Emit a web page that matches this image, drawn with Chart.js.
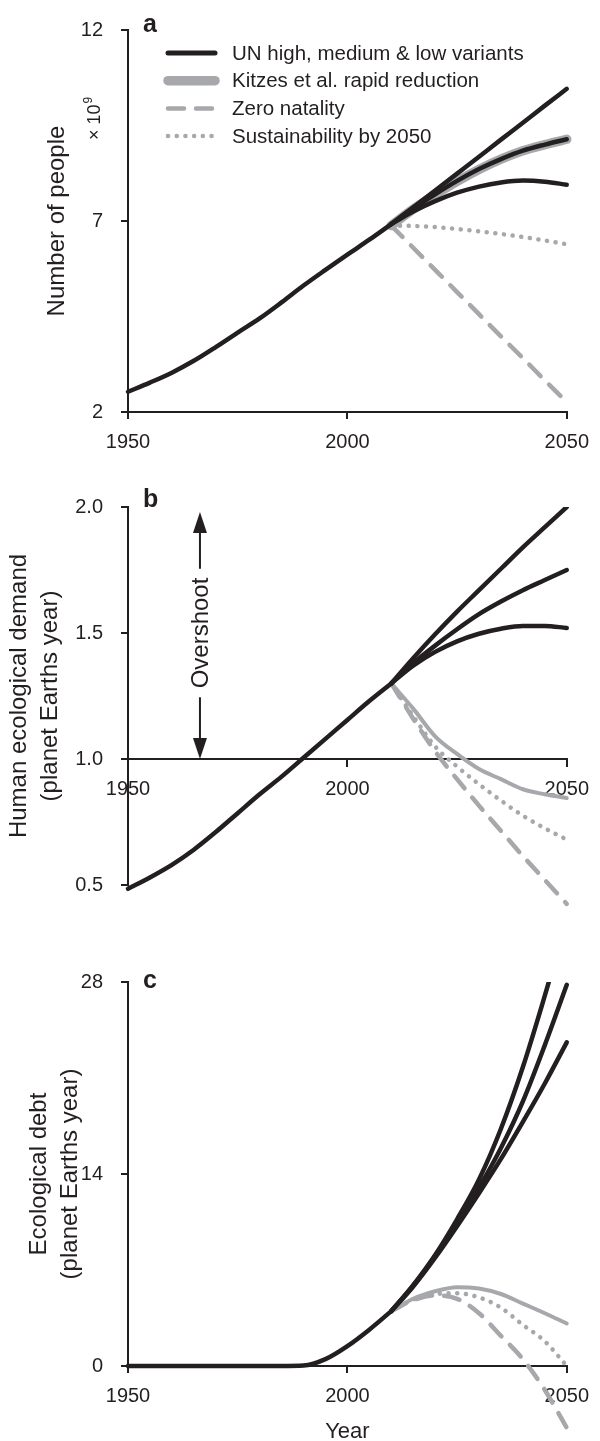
<!DOCTYPE html>
<html>
<head>
<meta charset="utf-8">
<title>Population, ecological demand and debt</title>
<script src="https://cdn.jsdelivr.net/npm/chart.js@4.4.1/dist/chart.umd.min.js"></script>
<style>
    html, body { margin: 0; padding: 0; background: #ffffff; overflow: hidden; }
    .panel { position: absolute; left: 0; width: 600px; }
    #panelA { top: 0; height: 470px; }
    #panelB { top: 470px; height: 445px; }
    #panelC { top: 915px; height: 526px; }
</style>
</head>
<body>
<div class="panel" id="panelA"><canvas id="chartA"></canvas></div>
<div class="panel" id="panelB"><canvas id="chartB"></canvas></div>
<div class="panel" id="panelC"><canvas id="chartC"></canvas></div>

<script>
// Years: history up to 2010, projections from 2010
const yearsHist = [1950, 1955, 1960, 1965, 1970, 1975, 1980, 1985, 1990, 1995, 2000, 2005, 2010];
const yearsProj = [2010, 2015, 2020, 2025, 2030, 2035, 2040, 2045, 2050];

// Panel a: number of people (x 10^9)
const peopleHist = [2.53, 2.77, 3.03, 3.34, 3.70, 4.08, 4.45, 4.87, 5.31, 5.72, 6.12, 6.51, 6.92];
const peopleHigh = [6.92, 7.36, 7.80, 8.24, 8.68, 9.13, 9.57, 10.02, 10.46];
const peopleMedium = [6.92, 7.33, 7.70, 8.05, 8.36, 8.62, 8.84, 9.00, 9.14];
const peopleLow = [6.92, 7.25, 7.52, 7.74, 7.90, 8.01, 8.06, 8.03, 7.95];
const peopleKitzes = [6.88, 7.31, 7.69, 8.04, 8.35, 8.62, 8.84, 9.00, 9.14];
const peopleZero = [6.88, 6.30, 5.72, 5.14, 4.56, 3.98, 3.41, 2.83, 2.26];
const peopleSust = [6.88, 6.87, 6.84, 6.79, 6.73, 6.66, 6.58, 6.49, 6.39];

// Panel b: human ecological demand (planet Earths year)
const demandHist = [0.485, 0.53, 0.58, 0.64, 0.71, 0.785, 0.86, 0.93, 1.005, 1.08, 1.155, 1.23, 1.30];
const demandHigh = [1.30, 1.40, 1.495, 1.585, 1.67, 1.755, 1.84, 1.92, 2.00];
const demandMedium = [1.30, 1.38, 1.45, 1.515, 1.575, 1.625, 1.67, 1.71, 1.75];
const demandLow = [1.30, 1.37, 1.425, 1.467, 1.497, 1.517, 1.528, 1.528, 1.52];
const demandKitzes = [1.30, 1.20, 1.09, 1.02, 0.96, 0.92, 0.88, 0.86, 0.845];
const demandZero = [1.30, 1.16, 1.03, 0.92, 0.815, 0.715, 0.615, 0.52, 0.425];
const demandSust = [1.30, 1.17, 1.05, 0.97, 0.90, 0.835, 0.775, 0.725, 0.68];

// Panel c: ecological debt (planet Earths year)
const debtHist = [0, 0, 0, 0, 0, 0, 0, 0, 0.03, 0.5, 1.45, 2.65, 4.0];
const debtHigh = [4.0, 5.9, 8.1, 10.7, 13.6, 17.3, 21.8, 27.0, 32.5];
const debtMedium = [4.0, 5.85, 8.0, 10.4, 13.0, 15.9, 19.3, 23.4, 27.8];
const debtLow = [4.0, 5.8, 7.9, 10.2, 12.6, 15.1, 17.8, 20.6, 23.6];
const debtKitzes = [4.0, 4.9, 5.45, 5.75, 5.65, 5.25, 4.55, 3.85, 3.1];
const debtZero = [4.0, 4.8, 5.15, 4.9, 3.85, 2.2, 0.5, -1.75, -4.5];
const debtSust = [4.0, 4.85, 5.25, 5.3, 5.0, 4.25, 3.0, 1.8, 0.0];

// Tick labels
const yearTicks = [1950, 2000, 2050];
const peopleTicks = [2, 7, 12];
const demandTicks = [0.5, 1.0, 1.5, 2.0];
const debtTicks = [0, 14, 28];

// Legend texts (panel a)
const legendLabels = ['UN high, medium & low variants', 'Kitzes et al. rapid reduction', 'Zero natality', 'Sustainability by 2050'];
const panelLetters = ['a', 'b', 'c'];

const BLACK = '#231f20';
const GREY = '#a6a8ab';
const DASH = [16, 12];
const DOTS = [0.1, 8.6];

Chart.defaults.font.family = '"Liberation Sans", Arial, Helvetica, sans-serif';
Chart.defaults.color = BLACK;

// Turn a list of years and a list of values into {x, y} points
function points(years, values) {
    return years.map(function (year, i) {
        return { x: year, y: values[i] };
    });
}

function lineDataset(label, years, values, color, width, dash) {
    return {
        label: label,
        data: points(years, values),
        borderColor: color,
        borderWidth: width,
        borderDash: dash || [],
        borderCapStyle: 'round',
        borderJoinStyle: 'round',
        pointRadius: 0,
        fill: false,
        cubicInterpolationMode: 'monotone',
        capBezierPoints: false,
        clip: { left: false, top: 0, right: false, bottom: false }
    };
}

// First dataset is drawn on top, so the black lines come first
function panelDatasets(hist, high, medium, low, zero, sust, kitzes, kitzesWidth) {
    return [
        lineDataset('History', yearsHist, hist, BLACK, 4.5),
        lineDataset('UN high', yearsProj, high, BLACK, 4.5),
        lineDataset('UN medium', yearsProj, medium, BLACK, 4.5),
        lineDataset('UN low', yearsProj, low, BLACK, 4.5),
        lineDataset('Zero natality', yearsProj, zero, GREY, 4.5, DASH),
        lineDataset('Sustainability by 2050', yearsProj, sust, GREY, 4.5, DOTS),
        lineDataset('Kitzes et al. rapid reduction', yearsProj, kitzes, GREY, kitzesWidth)
    ];
}

function tickList(values) {
    return function (axis) {
        axis.ticks = values.map(function (v) { return { value: v }; });
    };
}

// Year axis, shared by the three panels
function yearAxis(height, position, title) {
    return {
        type: 'linear',
        position: position,
        min: yearTicks[0],
        max: yearTicks[yearTicks.length - 1],
        afterBuildTicks: tickList(yearTicks),
        afterFit: function (axis) { if (height) { axis.height = height; } },
        ticks: {
            autoSkip: false,
            maxRotation: 0,
            padding: 11,
            font: { size: 20 },
            color: BLACK,
            callback: function (v) { return String(v); }
        },
        grid: { drawOnChartArea: false, drawTicks: true, tickLength: 7, lineWidth: 2, color: BLACK },
        border: { display: true, width: 2, color: BLACK },
        title: title ? {
            display: true,
            text: title,
            color: BLACK,
            font: { size: 22, lineHeight: 1 },
            padding: { top: 0, bottom: -2 }
        } : { display: false }
    };
}

// Value axis on the left
function valueAxis(values, title, titlePad, lineHeight, formatter) {
    return {
        type: 'linear',
        position: 'left',
        min: values[0],
        max: values[values.length - 1],
        afterBuildTicks: tickList(values),
        afterFit: function (axis) { axis.width = 128; },
        ticks: {
            padding: 18,
            font: { size: 20 },
            color: BLACK,
            callback: formatter || function (v) { return String(v); }
        },
        grid: { drawOnChartArea: false, drawTicks: true, tickLength: 7, lineWidth: 2, color: BLACK },
        border: { display: true, width: 2, color: BLACK },
        title: {
            display: true,
            text: title,
            color: BLACK,
            font: { size: 24, lineHeight: lineHeight },
            padding: { top: titlePad, bottom: 0 }
        }
    };
}

// Bold panel letter next to the top of the y axis
function letterPlugin(letter, baseline) {
    return {
        id: 'letter' + letter,
        afterDraw: function (chart) {
            const ctx = chart.ctx;
            ctx.save();
            ctx.fillStyle = BLACK;
            ctx.font = 'bold 25px "Liberation Sans", Arial, sans-serif';
            ctx.textBaseline = 'alphabetic';
            ctx.textAlign = 'left';
            ctx.fillText(letter, 143, chart.chartArea.top + baseline);
            ctx.restore();
        }
    };
}

// Legend of panel a, drawn from the dataset styles
const legendPlugin = {
    id: 'legendA',
    afterDraw: function (chart) {
        const ctx = chart.ctx;
        const sources = [1, 6, 4, 5];
        ctx.save();
        sources.forEach(function (index, row) {
            const ds = chart.data.datasets[index];
            const y = 53 + row * 27.7;
            ctx.beginPath();
            ctx.strokeStyle = ds.borderColor;
            ctx.lineWidth = index === 1 ? 5 : ds.borderWidth;
            ctx.lineCap = 'round';
            ctx.setLineDash(ds.borderDash || []);
            ctx.moveTo(168, y);
            ctx.lineTo(215, y);
            ctx.stroke();
            ctx.setLineDash([]);
            ctx.fillStyle = BLACK;
            ctx.font = '20.5px "Liberation Sans", Arial, sans-serif';
            ctx.textBaseline = 'middle';
            ctx.textAlign = 'left';
            ctx.fillText(legendLabels[row], 232, y + 1);
        });

        // "x 10^9" unit next to the axis title
        ctx.translate(100, 140);
        ctx.rotate(-Math.PI / 2);
        ctx.font = '18px "Liberation Sans", Arial, sans-serif';
        ctx.textBaseline = 'alphabetic';
        const w = ctx.measureText('\u00d7 10').width;
        ctx.fillText('\u00d7 10', 0, 0);
        ctx.font = '12px "Liberation Sans", Arial, sans-serif';
        ctx.fillText('9', w + 1, -8);
        ctx.restore();
    }
};

// Double arrow with "Overshoot" in panel b
const overshootPlugin = {
    id: 'overshoot',
    afterDraw: function (chart) {
        const ctx = chart.ctx;
        const xs = chart.scales.x;
        const ys = chart.scales.y;
        const x = xs.getPixelForValue(1966.4);
        const yTop = ys.getPixelForValue(1.98);
        const yBottom = ys.getPixelForValue(1.0);
        const yMid = ys.getPixelForValue(1.5);
        const head = 21;
        const half = 7;
        ctx.save();
        ctx.fillStyle = BLACK;
        ctx.strokeStyle = BLACK;
        ctx.lineWidth = 2;
        ctx.font = '24px "Liberation Sans", Arial, sans-serif';
        const textHalf = ctx.measureText('Overshoot').width / 2;

        ctx.beginPath();
        ctx.moveTo(x, yTop + head);
        ctx.lineTo(x, yMid - textHalf - 9);
        ctx.moveTo(x, yMid + textHalf + 9);
        ctx.lineTo(x, yBottom - head);
        ctx.stroke();

        ctx.beginPath();
        ctx.moveTo(x, yTop);
        ctx.lineTo(x - half, yTop + head);
        ctx.lineTo(x + half, yTop + head);
        ctx.closePath();
        ctx.fill();

        ctx.beginPath();
        ctx.moveTo(x, yBottom);
        ctx.lineTo(x - half, yBottom - head);
        ctx.lineTo(x + half, yBottom - head);
        ctx.closePath();
        ctx.fill();

        ctx.translate(x, yMid);
        ctx.rotate(-Math.PI / 2);
        ctx.textAlign = 'center';
        ctx.textBaseline = 'middle';
        ctx.fillText('Overshoot', 0, 1);
        ctx.restore();
    }
};

function baseOptions(padding, scales) {
    return {
        responsive: true,
        maintainAspectRatio: false,
        animation: false,
        events: [],
        layout: { padding: padding },
        plugins: { legend: { display: false }, tooltip: { enabled: false } },
        scales: scales
    };
}

// Panel a
new Chart(document.getElementById('chartA'), {
    type: 'line',
    data: { datasets: panelDatasets(peopleHist, peopleHigh, peopleMedium, peopleLow, peopleZero, peopleSust, peopleKitzes, 9.5) },
    options: baseOptions({ left: 0, right: 28, top: 27, bottom: 8 }, {
        x: yearAxis(50, 'bottom'),
        y: valueAxis(peopleTicks, 'Number of people', 43, 1.2)
    }),
    plugins: [letterPlugin(panelLetters[0], 2), legendPlugin]
});

// Panel b: the year axis crosses at 1.0
new Chart(document.getElementById('chartB'), {
    type: 'line',
    data: { datasets: panelDatasets(demandHist, demandHigh, demandMedium, demandLow, demandZero, demandSust, demandKitzes, 4) },
    options: baseOptions({ left: 0, right: 28, top: 37, bottom: 26 }, {
        x: yearAxis(0, { y: 1.0 }),
        y: valueAxis(demandTicks, ['Human ecological demand', '(planet Earths year)'], 3.4, 1.3,
            function (v) { return v.toFixed(1); })
    }),
    plugins: [letterPlugin(panelLetters[1], 0), overshootPlugin]
});

// Panel c
new Chart(document.getElementById('chartC'), {
    type: 'line',
    data: { datasets: panelDatasets(debtHist, debtHigh, debtMedium, debtLow, debtZero, debtSust, debtKitzes, 4) },
    options: baseOptions({ left: 0, right: 28, top: 67, bottom: 0 }, {
        x: yearAxis(75, 'bottom', 'Year'),
        y: valueAxis(debtTicks, ['Ecological debt', '(planet Earths year)'], 23.4, 1.3)
    }),
    plugins: [letterPlugin(panelLetters[2], 6)]
});
</script>
</body>
</html>
